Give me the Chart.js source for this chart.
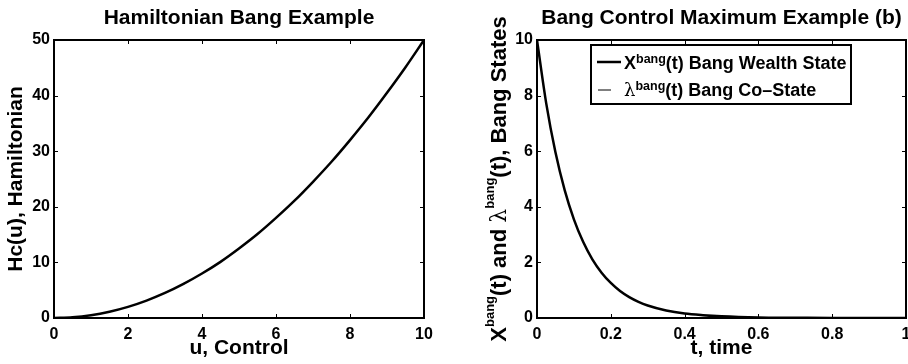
<!DOCTYPE html>
<html>
<head>
<meta charset="utf-8">
<script src="https://cdn.jsdelivr.net/npm/chart.js@4.4.0/dist/chart.umd.min.js"></script>
<style>
  html, body { margin: 0; padding: 0; background: #fff; overflow: hidden; }
  #wrap { position: relative; width: 908px; height: 364px; overflow: hidden; }
  #hamChart { position: absolute; left: 0; top: 0; }
  #bangChart { position: absolute; left: 454px; top: 0; }
</style>
</head>
<body>
<div id="wrap">
  <canvas id="hamChart" width="454" height="364"></canvas>
  <canvas id="bangChart" width="470" height="364"></canvas>
</div>
<script>
/* global Chart */
// left panel: Hamiltonian vs control
const controlU = [0, 0.5, 1, 1.5, 2, 2.5, 3, 3.5, 4, 4.5, 5, 5.5, 6, 6.5, 7, 7.5, 8, 8.5, 9, 9.5, 10];
const hamiltonianHc = [0, 0.13, 0.5, 1.13, 2, 3.13, 4.5, 6.13, 8, 10.1, 12.5, 15.1, 18, 21.1, 24.5, 28.1, 32, 36.1, 40.5, 45.1, 50];
const hamXTicks = [0, 2, 4, 6, 8, 10];
const hamYTicks = [0, 10, 20, 30, 40, 50];

// right panel: bang wealth state and co-state vs time
const timeT = [0, 0.025, 0.05, 0.075, 0.1, 0.125, 0.15, 0.175, 0.2, 0.225, 0.25, 0.275, 0.3, 0.35, 0.4, 0.45, 0.5, 0.6, 0.7, 0.8, 0.9, 1];
const wealthX = [10, 7.72, 5.96, 4.6, 3.55, 2.74, 2.11, 1.63, 1.26, 0.97, 0.75, 0.58, 0.45, 0.27, 0.16, 0.1, 0.06, 0.02, 0.01, 0, 0, 0];
const coStateLambda = [0, 0, 0, 0, 0, 0, 0, 0, 0, 0, 0, 0, 0, 0, 0, 0, 0, 0, 0, 0, 0, 0];
const bangXTicks = [0, 0.2, 0.4, 0.6, 0.8, 1];
const bangYTicks = [0, 2, 4, 6, 8, 10];

const FONT = "'Liberation Sans', Arial, Helvetica, sans-serif";
const SERIF = "'DejaVu Serif', 'Liberation Serif', serif";

Chart.defaults.color = "#000";
Chart.defaults.font.family = FONT;

function toPoints(xs, ys) {
  return xs.map((x, i) => ({ x: x, y: ys[i] }));
}

// matlab style frame with inward ticks on all four sides
const boxPlugin = {
  id: "matlabBox",
  afterDatasetsDraw(chart) {
    const { ctx, chartArea: a, scales } = chart;
    const len = 4;
    ctx.save();
    ctx.strokeStyle = "#000";
    ctx.lineWidth = 1;
    ctx.beginPath();
    scales.x.ticks.forEach((t) => {
      const px = Math.round(scales.x.getPixelForValue(t.value)) + 0.5;
      ctx.moveTo(px, a.bottom); ctx.lineTo(px, a.bottom - len);
      ctx.moveTo(px, a.top); ctx.lineTo(px, a.top + len);
    });
    scales.y.ticks.forEach((t) => {
      const py = Math.round(scales.y.getPixelForValue(t.value)) + 0.5;
      ctx.moveTo(a.left, py); ctx.lineTo(a.left + len, py);
      ctx.moveTo(a.right, py); ctx.lineTo(a.right - len, py);
    });
    ctx.stroke();
    ctx.lineWidth = 2;
    ctx.strokeRect(a.left, a.top, a.right - a.left, a.bottom - a.top);
    ctx.restore();
  },
};

// text with superscripts: parts = [text, isSup, isSerif]
function setPartFont(ctx, sup, serif, size, supSize) {
  ctx.font = (serif ? "normal " : "bold ") + (sup ? supSize : size) + "px " + (serif ? SERIF : FONT);
}

function richWidth(ctx, parts, size, supSize) {
  let w = 0;
  parts.forEach(([txt, sup, serif]) => {
    setPartFont(ctx, sup, serif, size, supSize);
    w += ctx.measureText(txt).width;
  });
  return w;
}

function drawRich(ctx, parts, x, y, size, supSize, raise) {
  let cx = x;
  parts.forEach(([txt, sup, serif]) => {
    setPartFont(ctx, sup, serif, size, supSize);
    ctx.fillText(txt, cx, sup ? y - raise : y);
    cx += ctx.measureText(txt).width;
  });
}

const bangTextPlugin = {
  id: "bangText",
  afterDraw(chart) {
    const { ctx, chartArea: a } = chart;
    ctx.save();
    ctx.fillStyle = "#000";
    ctx.textBaseline = "alphabetic";
    ctx.textAlign = "left";

    // rotated y axis title
    const yParts = [["X", false], ["bang", true], ["(t) and ", false], ["\u03bb", false, true], ["bang", true], ["(t), Bang States", false]];
    const w = richWidth(ctx, yParts, 22, 13);
    ctx.save();
    ctx.translate(a.left - 31, (a.top + a.bottom) / 2);
    ctx.rotate(-Math.PI / 2);
    drawRich(ctx, yParts, -w / 2, 0, 22, 13, 12);
    ctx.restore();

    // legend
    const bx = a.left + 54;
    const by = a.top + 5;
    ctx.fillStyle = "#fff";
    ctx.fillRect(bx, by, 260, 59);
    ctx.strokeStyle = "#000";
    ctx.lineWidth = 2;
    ctx.strokeRect(bx, by, 260, 59);

    ctx.lineWidth = 2.5;
    ctx.beginPath();
    ctx.moveTo(bx + 6, by + 17);
    ctx.lineTo(bx + 30, by + 17);
    ctx.stroke();
    ctx.lineWidth = 1;
    ctx.beginPath();
    ctx.moveTo(bx + 7, by + 45);
    ctx.lineTo(bx + 20, by + 45);
    ctx.stroke();

    ctx.fillStyle = "#000";
    drawRich(ctx, [["X", false], ["bang", true], ["(t) Bang Wealth State", false]], bx + 33, by + 23.5, 18, 12.5, 6);
    drawRich(ctx, [["\u03bb", false, true], ["bang", true], ["(t) Bang Co\u2013State", false]], bx + 33, by + 51, 18, 12.5, 6);
    ctx.restore();
  },
};

function axisOptions(ticksList, width, height, titleText, min, max) {
  const opts = {
    type: "linear",
    min: min,
    max: max,
    grid: { display: false, drawTicks: false },
    border: { display: false },
    afterBuildTicks: (scale) => {
      scale.ticks = ticksList.map((v) => ({ value: v }));
    },
    ticks: {
      autoSkip: false,
      maxRotation: 0,
      font: { size: 16, weight: "bold" },
      callback: (value) => String(value),
    },
  };
  if (width) {
    opts.afterFit = (scale) => { scale.width = width; };
    opts.ticks.padding = 4;
  }
  if (height) {
    opts.afterFit = (scale) => { scale.height = height; };
    opts.ticks.padding = 7;
  }
  if (titleText) {
    opts.title = {
      display: true,
      text: titleText,
      font: { size: 21, weight: "bold" },
      padding: width ? { top: 3.4, bottom: 0 } : { top: 0, bottom: 2.9 },
    };
  }
  return opts;
}

function titleOptions(text) {
  return {
    display: true,
    fullSize: false,
    text: text,
    font: { size: 21, weight: "bold" },
    padding: { top: 6, bottom: 8.8 },
  };
}

new Chart(document.getElementById("hamChart").getContext("2d"), {
  type: "line",
  data: {
    datasets: [
      {
        label: "Hc(u)",
        data: toPoints(controlU, hamiltonianHc),
        borderColor: "#000",
        borderWidth: 2.5,
        pointRadius: 0,
        cubicInterpolationMode: "monotone",
      },
    ],
  },
  options: {
    responsive: false,
    animation: false,
    layout: { padding: { left: 0, right: 30, top: 0, bottom: 0 } },
    plugins: {
      legend: { display: false },
      tooltip: { enabled: false },
      title: titleOptions("Hamiltonian Bang Example"),
    },
    scales: {
      x: axisOptions(hamXTicks, null, 46, "u, Control", 0, 10),
      y: axisOptions(hamYTicks, 54, null, "Hc(u), Hamiltonian", 0, 50),
    },
  },
  plugins: [boxPlugin],
});

new Chart(document.getElementById("bangChart").getContext("2d"), {
  type: "line",
  data: {
    datasets: [
      {
        label: "Xbang(t) Bang Wealth State",
        data: toPoints(timeT, wealthX),
        borderColor: "#000",
        borderWidth: 2.5,
        pointRadius: 0,
        cubicInterpolationMode: "monotone",
      },
      {
        label: "lambda bang(t) Bang Co-State",
        data: toPoints(timeT, coStateLambda),
        borderColor: "#000",
        borderWidth: 1,
        pointRadius: 0,
      },
    ],
  },
  options: {
    responsive: false,
    animation: false,
    layout: { padding: { left: 0, right: 18, top: 0, bottom: 0 } },
    plugins: {
      legend: { display: false },
      tooltip: { enabled: false },
      title: titleOptions("Bang Control Maximum Example (b)"),
    },
    scales: {
      x: axisOptions(bangXTicks, null, 46, "t, time", 0, 1),
      y: axisOptions(bangYTicks, 83, null, null, 0, 10),
    },
  },
  plugins: [boxPlugin, bangTextPlugin],
});
</script>
</body>
</html>
